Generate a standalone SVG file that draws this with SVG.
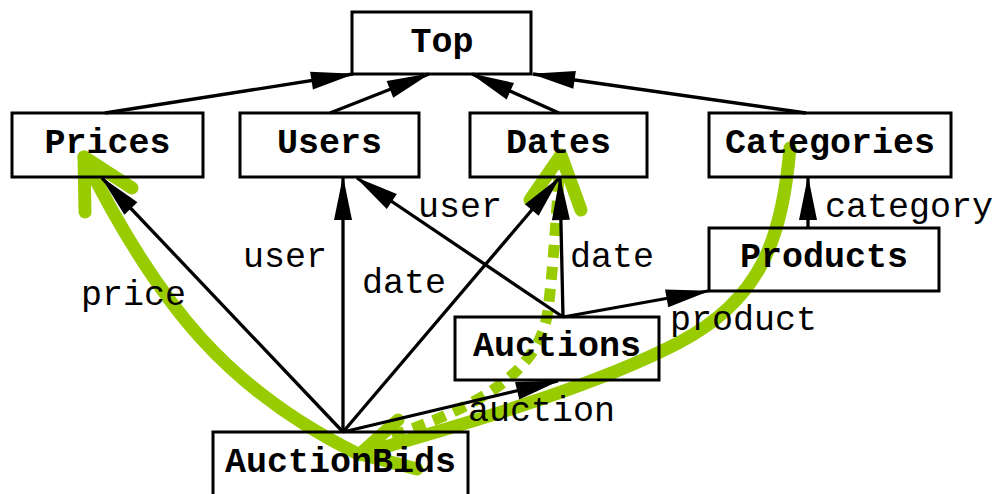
<svg xmlns="http://www.w3.org/2000/svg" width="997" height="494" viewBox="0 0 997 494">
<style>
.box{fill:none;stroke:#000;stroke-width:3}
.nt{font-family:"Liberation Mono","Courier New",monospace;font-weight:bold;font-size:35px;text-anchor:middle;fill:#000}
.lt{font-family:"Liberation Mono","Courier New",monospace;font-size:35px;fill:#000}
.e{stroke:#000;stroke-width:3.3;fill:none;marker-end:url(#ah)}
.g{stroke:#99cc00;stroke-width:13;fill:none;stroke-linecap:round;stroke-linejoin:round}
.gd{stroke:#99cc00;stroke-width:11;fill:none;stroke-dasharray:13 9}
</style>
<defs>
<marker id="ah" markerUnits="userSpaceOnUse" markerWidth="50" markerHeight="24" viewBox="-44 -12 50 24" refX="0" refY="0" orient="auto">
<path d="M2,0 L-42,-9 L-42,9 Z" fill="#000"/>
</marker>
</defs>
<g id="highlights">
<path class="g" d="M358,454 C232,392 160,310 84,157"/>
<path class="g" d="M85,212 L84,157 L132,188"/>
<path class="g" d="M790,148 C782,240 760,300 680,342 C600,384 480,420 360,454"/>
<path class="g" d="M398,420 L360,454 L417,469"/>
<path class="gd" d="M392,436 C485,404 540,370 548,310 C553,270 556,220 560,162"/>
<path class="g" d="M530,200 L561,155 L581,210"/>
</g>
<g id="Top"><rect class="box" x="352" y="12" width="179" height="62"/><text class="nt" x="442" y="52">Top</text></g>
<g id="Prices"><rect class="box" x="12" y="113" width="191" height="64"/><text class="nt" x="107.5" y="153">Prices</text></g>
<g id="Users"><rect class="box" x="240" y="113" width="179" height="64"/><text class="nt" x="329.5" y="153">Users</text></g>
<g id="Dates"><rect class="box" x="470" y="113" width="177" height="64"/><text class="nt" x="558.5" y="153">Dates</text></g>
<g id="Categories"><rect class="box" x="709" y="113" width="242" height="64"/><text class="nt" x="830" y="153">Categories</text></g>
<g id="Products"><rect class="box" x="709" y="228" width="230" height="63"/><text class="nt" x="824" y="267">Products</text></g>
<g id="Auctions"><rect class="box" x="455" y="317" width="204" height="63"/><text class="nt" x="557" y="356">Auctions</text></g>
<g id="AuctionBids"><rect class="box" x="213" y="432" width="255" height="70"/><text class="nt" x="340.5" y="472">AuctionBids</text></g>
<g id="connectors">
<line class="e" x1="105" y1="113" x2="353" y2="74"/>
<line class="e" x1="330" y1="113" x2="429" y2="74"/>
<line class="e" x1="559" y1="113" x2="472" y2="74"/>
<line class="e" x1="806" y1="113" x2="533" y2="74"/>
<line class="e" x1="343" y1="432" x2="102" y2="178"/>
<line class="e" x1="343" y1="432" x2="343" y2="178"/>
<line class="e" x1="343" y1="432" x2="559" y2="178"/>
<line class="e" x1="343" y1="432" x2="558" y2="381"/>
<line class="e" x1="563" y1="317" x2="357" y2="178"/>
<line class="e" x1="563" y1="317" x2="560" y2="178"/>
<line class="e" x1="563" y1="317" x2="708" y2="291"/>
<line class="e" x1="808" y1="228" x2="808" y2="178"/>
<text class="lt" x="81" y="305">price</text>
<text class="lt" x="243" y="267">user</text>
<text class="lt" x="362" y="293">date</text>
<text class="lt" x="418" y="217">user</text>
<text class="lt" x="570" y="267">date</text>
<text class="lt" x="825" y="217">category</text>
<text class="lt" x="670" y="330">product</text>
<text class="lt" x="468" y="421">auction</text>
</g>
</svg>
